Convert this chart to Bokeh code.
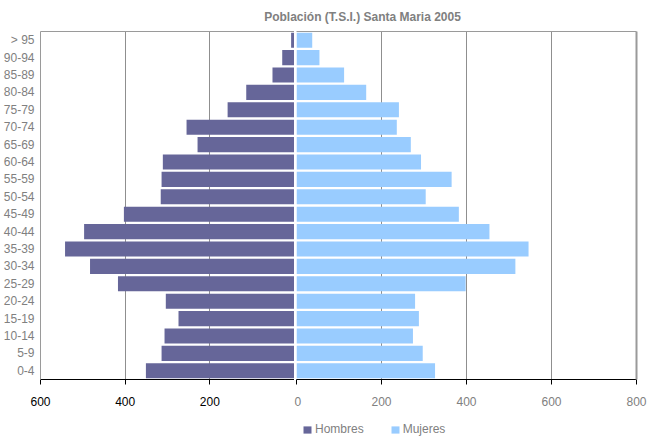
from bokeh.plotting import figure
from bokeh.layouts import column, row
from bokeh.models import (FactorRange, Range1d, FixedTicker, LinearAxis, Legend,
                          LegendItem, Label, ColumnDataSource)
from bokeh.embed import file_html
from bokeh.resources import INLINE

# ---- data -------------------------------------------------------------
age_groups = ["0-4", "5-9", "10-14", "15-19", "20-24", "25-29", "30-34", "35-39",
              "40-44", "45-49", "50-54", "55-59", "60-64", "65-69", "70-74",
              "75-79", "80-84", "85-89", "90-94", "> 95"]
hombres = [351, 314, 307, 274, 304, 417, 483, 542, 497, 403,
           316, 314, 311, 229, 255, 158, 114, 52, 29, 8]
mujeres = [326, 297, 274, 288, 279, 398, 515, 546, 454, 382,
           304, 365, 293, 269, 236, 241, 164, 112, 54, 37]
men_ticks = [-600, -400, -200, 0]
men_tick_labels = {-600: "600", -400: "400", -200: "200", 0: ""}
women_ticks = [0, 200, 400, 600, 800]
title_text = "Población (T.S.I.) Santa Maria 2005"
series_names = ["Hombres", "Mujeres"]

# ---- style -------------------------------------------------------------
FONT = "Liberation Sans"
MEN_C = "#666699"
WOMEN_C = "#99CCFF"
GRID_C = "#8f8f8f"
BORDER_C = "#9a9a9a"
TXT_GREY = "#808080"
FRAME_H = 348
BAR_H = 0.87
BOTTOM = 31

src_m = ColumnDataSource(dict(age=age_groups, left=[-v for v in hombres]))
src_w = ColumnDataSource(dict(age=age_groups, right=mujeres))

# ---- title strip -----------------------------------------------------------
pt = figure(width=647, height=30, toolbar_location=None, output_backend="svg",
            x_range=Range1d(0, 1), y_range=Range1d(0, 1),
            x_axis_location=None, y_axis_location=None, min_border=0,
            outline_line_color=None)
pt.grid.visible = False
pt.add_layout(Label(x=362, y=14, x_units="screen", y_units="screen", text=title_text,
                    text_align="center", text_baseline="middle",
                    text_font=FONT, text_font_size="12px", text_font_style="bold",
                    text_color=TXT_GREY))

# ---- men (left) ------------------------------------------------------------
pm = figure(frame_width=254, frame_height=FRAME_H, toolbar_location=None,
            output_backend="svg", y_range=FactorRange(factors=age_groups),
            x_range=Range1d(-600, 0), min_border_left=40, min_border_right=0,
            min_border_top=1, min_border_bottom=BOTTOM, outline_line_color=None)
pm.hbar(y="age", left="left", right=0, height=BAR_H, source=src_m,
        fill_color=MEN_C, line_color=None)
ax = pm.xaxis[0]
ax.ticker = FixedTicker(ticks=men_ticks)
ax.major_label_overrides = men_tick_labels
ax.axis_line_color = "black"
ax.major_tick_line_color = "black"
ax.major_tick_out = 5
ax.major_tick_in = 0
ax.minor_tick_line_color = None
ax.major_label_text_color = "black"
ax.major_label_text_font = FONT
ax.major_label_text_font_size = "12px"
ax.major_label_standoff = 12
ay = pm.yaxis[0]
ay.axis_line_color = BORDER_C
ay.major_tick_line_color = None
ay.major_tick_out = 0
ay.major_tick_in = 0
ay.minor_tick_line_color = None
ay.major_label_text_color = TXT_GREY
ay.major_label_text_font = FONT
ay.major_label_text_font_size = "12px"
ay.major_label_standoff = 6
pm.xgrid.ticker = FixedTicker(ticks=[-400, -200])
pm.xgrid.grid_line_color = GRID_C
pm.ygrid.visible = False
pm.add_layout(LinearAxis(ticker=FixedTicker(ticks=[]), axis_line_color=BORDER_C,
                         major_tick_out=0, major_label_standoff=0), "above")

# ---- women (right) ---------------------------------------------------------
pw = figure(frame_width=340, frame_height=FRAME_H, toolbar_location=None,
            output_backend="svg", y_range=pm.y_range, x_range=Range1d(0, 800),
            y_axis_location=None, min_border_left=2, min_border_right=11,
            min_border_top=1, min_border_bottom=BOTTOM, outline_line_color=None)
pw.hbar(y="age", left=0, right="right", height=BAR_H, source=src_w,
        fill_color=WOMEN_C, line_color=None)
bx = pw.xaxis[0]
bx.ticker = FixedTicker(ticks=women_ticks)
bx.axis_line_color = "black"
bx.major_tick_line_color = "black"
bx.major_tick_out = 5
bx.major_tick_in = 0
bx.minor_tick_line_color = None
bx.major_label_text_color = TXT_GREY
bx.major_label_text_font = FONT
bx.major_label_text_font_size = "12px"
bx.major_label_standoff = 12
pw.xgrid.ticker = FixedTicker(ticks=[200, 400, 600])
pw.xgrid.grid_line_color = GRID_C
pw.ygrid.visible = False
pw.add_layout(LinearAxis(ticker=FixedTicker(ticks=[]), axis_line_color=BORDER_C,
                         major_tick_out=0, major_label_standoff=0), "above")
pw.add_layout(LinearAxis(ticker=FixedTicker(ticks=[]),
                         axis_line_color=BORDER_C, axis_line_width=2,
                         major_tick_out=0, major_label_standoff=0), "right")

# ---- legend strip ----------------------------------------------------------
pl = figure(width=647, height=28, toolbar_location=None, output_backend="svg",
            x_range=Range1d(-600, 800), y_range=FactorRange(factors=age_groups),
            x_axis_location=None, y_axis_location=None, min_border=0,
            outline_line_color=None)
pl.grid.visible = False
# hidden copies of the two series, used only as legend keys
key_m = pl.hbar(y="age", left="left", right=0, height=BAR_H, source=src_m,
                fill_color=MEN_C, line_color=None, visible=False)
key_w = pl.hbar(y="age", left=0, right="right", height=BAR_H, source=src_w,
                fill_color=WOMEN_C, line_color=None, visible=False)
legend = Legend(items=[LegendItem(label=series_names[0], renderers=[key_m]),
                       LegendItem(label=series_names[1], renderers=[key_w])],
                orientation="horizontal", location=(302, 2),
                border_line_color=None, background_fill_alpha=0,
                inactive_fill_alpha=0,
                glyph_width=10, glyph_height=9, label_standoff=3, spacing=26,
                padding=0, margin=0, label_height=14,
                label_text_font=FONT, label_text_font_size="12px",
                label_text_color=TXT_GREY)
pl.add_layout(legend, "center")

layout = column(pt, row(pm, pw, spacing=0), pl, spacing=0)

with open("out.html", "w") as f:
    f.write(file_html(layout, INLINE))
